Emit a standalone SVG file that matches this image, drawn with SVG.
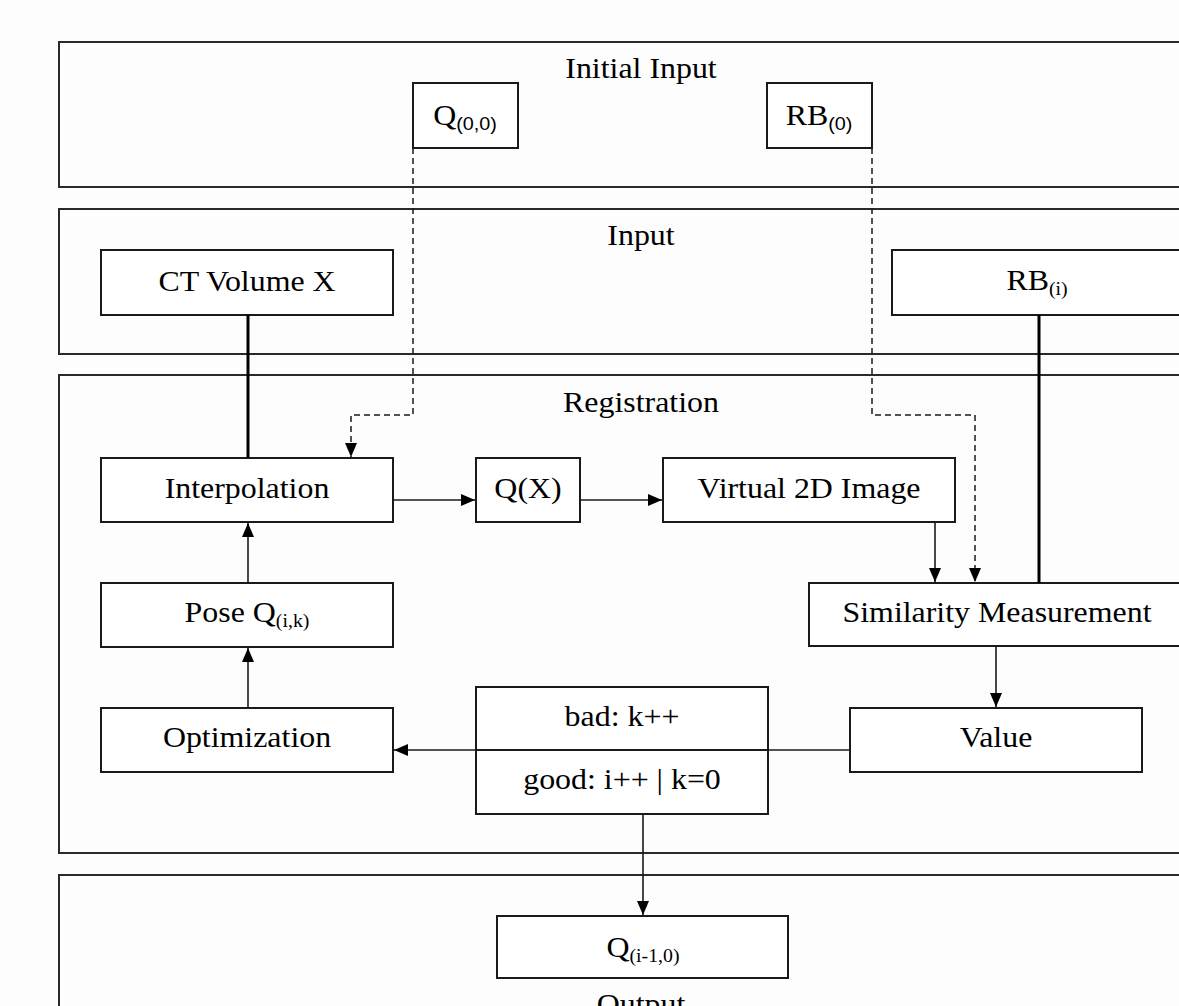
<svg xmlns="http://www.w3.org/2000/svg" width="1179" height="1006" viewBox="0 0 1179 1006">
<defs>
<style>
.cont{fill:none;stroke:#2a2a2a;stroke-width:2}
.box{fill:#fff;stroke:#1a1a1a;stroke-width:2}
.t{font-family:"Liberation Serif","Times New Roman",serif;font-size:29px;fill:#000;text-anchor:middle}
.sub{font-size:18px}
.subs{font-family:"Liberation Sans",Arial,sans-serif;font-size:18px}
.c{fill:none;stroke:#1a1a1a;stroke-width:1.6}
.thick{fill:none;stroke:#000;stroke-width:3}
.dash{fill:none;stroke:#1a1a1a;stroke-width:1.5;stroke-dasharray:6 4}
</style>
<marker id="arr" markerUnits="userSpaceOnUse" markerWidth="16" markerHeight="16" viewBox="0 0 16 16" refX="14" refY="8" orient="auto">
<path d="M0,2 L14,8 L0,14 Z" fill="#000"/>
</marker>
</defs>
<rect width="1179" height="1006" fill="#fdfdfd"/>

<g id="initial-input">
<rect class="cont" x="59" y="42" width="1170" height="145"/>
<text class="t" transform="translate(641,78) scale(1.1,1)">Initial Input</text>
</g>
<g id="input">
<rect class="cont" x="59" y="209" width="1170" height="145"/>
<text class="t" transform="translate(641,245) scale(1.1,1)">Input</text>
</g>
<g id="registration">
<rect class="cont" x="59" y="375" width="1170" height="478"/>
<text class="t" transform="translate(641,412) scale(1.1,1)">Registration</text>
</g>
<g id="output">
<rect class="cont" x="59" y="875" width="1170" height="160"/>
<text class="t" transform="translate(641,1014) scale(1.1,1)">Output</text>
</g>

<g id="q00">
<rect class="box" x="413" y="83" width="105" height="65"/>
<text class="t" transform="translate(465,125) scale(1.1,1)">Q<tspan class="subs" dy="5">(0,0)</tspan></text>
</g>
<g id="rb0">
<rect class="box" x="767" y="83" width="105" height="65"/>
<text class="t" transform="translate(819,125) scale(1.1,1)">RB<tspan class="subs" dy="5">(0)</tspan></text>
</g>
<g id="ct-volume">
<rect class="box" x="101" y="250" width="292" height="65"/>
<text class="t" transform="translate(247,291) scale(1.1,1)">CT Volume X</text>
</g>
<g id="rbi">
<rect class="box" x="892" y="250" width="300" height="65"/>
<text class="t" transform="translate(1037,290) scale(1.1,1)">RB<tspan class="sub" dy="5">(i)</tspan></text>
</g>
<g id="interpolation">
<rect class="box" x="101" y="458" width="292" height="64"/>
<text class="t" transform="translate(247,498) scale(1.1,1)">Interpolation</text>
</g>
<g id="qx">
<rect class="box" x="476" y="458" width="104" height="64"/>
<text class="t" transform="translate(528,498) scale(1.1,1)">Q(X)</text>
</g>
<g id="virtual-2d">
<rect class="box" x="663" y="458" width="292" height="64"/>
<text class="t" transform="translate(809,498) scale(1.1,1)">Virtual 2D Image</text>
</g>
<g id="pose">
<rect class="box" x="101" y="583" width="292" height="64"/>
<text class="t" transform="translate(247,622) scale(1.1,1)">Pose Q<tspan class="sub" dy="5">(i,k)</tspan></text>
</g>
<g id="similarity">
<rect class="box" x="809" y="583" width="376" height="63"/>
<text class="t" transform="translate(997,622) scale(1.1,1)">Similarity Measurement</text>
</g>
<g id="optimization">
<rect class="box" x="101" y="708" width="292" height="64"/>
<text class="t" transform="translate(247,747) scale(1.1,1)">Optimization</text>
</g>
<g id="decision">
<rect class="box" x="476" y="687" width="292" height="127"/>
<line x1="476" y1="750" x2="768" y2="750" stroke="#1a1a1a" stroke-width="2"/>
<text class="t" transform="translate(622,726) scale(1.1,1)">bad: k++</text>
<text class="t" transform="translate(622,789) scale(1.1,1)">good: i++ | k=0</text>
</g>
<g id="value">
<rect class="box" x="850" y="708" width="292" height="64"/>
<text class="t" transform="translate(996,747) scale(1.1,1)">Value</text>
</g>
<g id="q-out">
<rect class="box" x="497" y="916" width="291" height="62"/>
<text class="t" transform="translate(643,957) scale(1.1,1)">Q<tspan class="sub" dy="5">(i-1,0)</tspan></text>
</g>

<g id="connectors">
<path class="dash" d="M413,148 V415 H351 V457" marker-end="url(#arr)"/>
<path class="dash" d="M872,148 V415 H975 V582" marker-end="url(#arr)"/>
<line class="thick" x1="248" y1="315" x2="248" y2="458"/>
<line class="thick" x1="1039" y1="315" x2="1039" y2="583"/>
<line class="c" x1="393" y1="500" x2="475" y2="500" marker-end="url(#arr)"/>
<line class="c" x1="580" y1="500" x2="662" y2="500" marker-end="url(#arr)"/>
<line class="c" x1="935" y1="522" x2="935" y2="582" marker-end="url(#arr)"/>
<line class="c" x1="996" y1="646" x2="996" y2="707" marker-end="url(#arr)"/>
<line class="c" x1="850" y1="750" x2="394" y2="750" marker-end="url(#arr)"/>
<line class="c" x1="248" y1="583" x2="248" y2="523" marker-end="url(#arr)"/>
<line class="c" x1="248" y1="708" x2="248" y2="648" marker-end="url(#arr)"/>
<line class="c" x1="643" y1="814" x2="643" y2="915" marker-end="url(#arr)"/>
</g>
</svg>
